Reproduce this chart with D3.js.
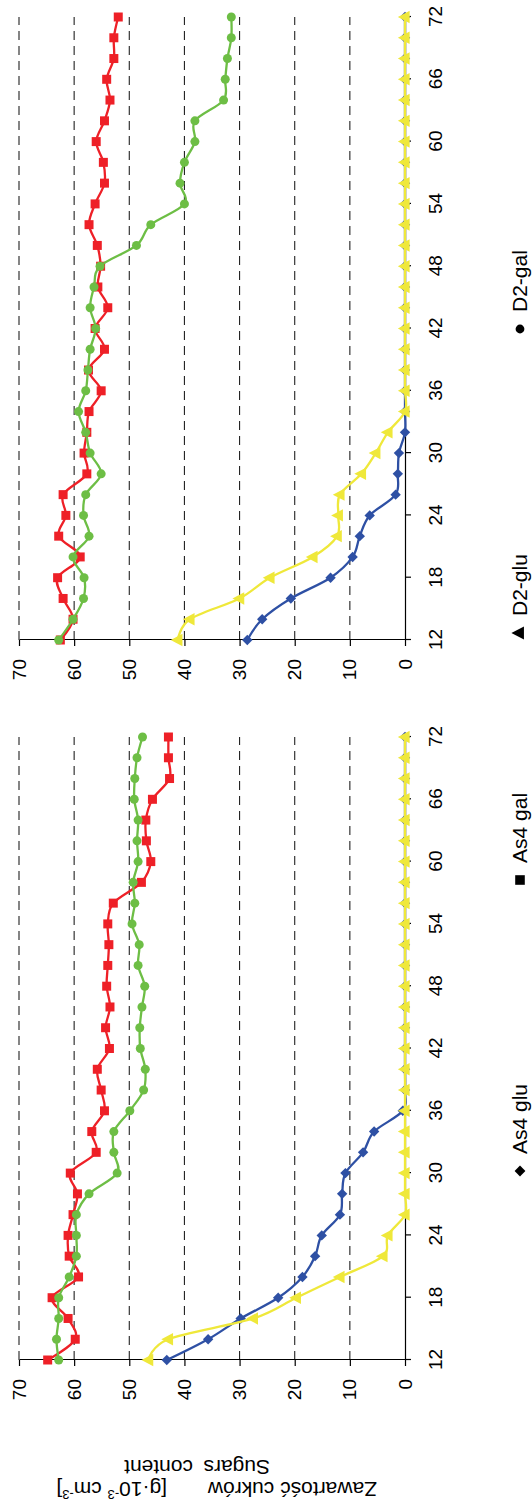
<!DOCTYPE html>
<html>
<head>
<meta charset="utf-8">
<script src="https://cdn.jsdelivr.net/npm/d3@7"></script>
<style>
  html, body { margin: 0; padding: 0; background: #fff; }
  svg { display: block; font-family: "Liberation Sans", Arial, sans-serif; }
</style>
</head>
<body>
<svg id="chart" width="532" height="1505"></svg>
<script>
// Sampling times (h)
const hours = [12, 14, 16, 18, 20, 22, 24, 26, 28, 30, 32, 34, 36, 38, 40, 42,
               44, 46, 48, 50, 52, 54, 56, 58, 60, 62, 64, 66, 68, 70, 72];
const hourTicks = [12, 18, 24, 30, 36, 42, 48, 54, 60, 66, 72];
const valueTicks = [0, 10, 20, 30, 40, 50, 60, 70];
const gridValues = [10, 20, 30, 40, 50, 60, 70];

// Left panel, sugar content [g·10^-3 cm^-3]
const leftAs4Glu = [43.2, 35.7, 29.8, 23.0, 18.6, 16.3, 15.1, 11.8, 11.4, 10.8, 7.6, 5.6, 0.4, 0, 0, 0,
                    0, 0, 0, 0, 0, 0, 0, 0, 0, 0, 0, 0, 0, 0, 0];
const leftAs4Gal = [64.8, 59.8, 61.1, 64.0, 59.2, 60.9, 61.1, 60.2, 59.4, 60.7, 56.0, 56.8, 54.5, 55.1, 55.8, 53.6,
                    54.3, 53.5, 54.1, 53.9, 53.7, 53.9, 52.9, 47.8, 46.1, 46.9, 47.0, 45.8, 42.7, 42.9, 42.9];
const leftD2Glu  = [46.5, 42.9, 27.5, 19.7, 11.8, 4.0, 3.1, 0, 0, 0, 0, 0, 0, 0, 0, 0,
                    0, 0, 0, 0, 0, 0, 0, 0, 0, 0, 0, 0, 0, 0, 0];
const leftD2Gal  = [62.8, 63.2, 62.8, 62.8, 60.9, 59.6, 59.6, 59.6, 57.3, 52.2, 52.8, 52.8, 49.9, 47.4, 47.1, 48.0,
                    48.1, 47.7, 47.2, 48.4, 48.2, 49.5, 49.0, 49.3, 48.4, 48.6, 48.4, 49.1, 49.0, 48.6, 47.6];

// Right panel
const rightAs4Glu = [28.6, 25.9, 20.7, 13.5, 9.5, 8.2, 6.4, 1.7, 1.3, 1.1, 0, 0, 0, 0, 0, 0,
                     0, 0, 0, 0, 0, 0, 0, 0, 0, 0, 0, 0, 0, 0, 0];
const rightAs4Gal = [62.5, 60.2, 62.0, 63.0, 58.9, 62.8, 61.5, 62.0, 57.7, 58.2, 57.7, 57.3, 55.1, 57.4, 54.5, 56.2,
                     53.9, 55.7, 55.2, 55.8, 57.3, 56.2, 54.5, 54.7, 56.0, 54.5, 53.5, 54.1, 52.8, 52.8, 52.0];
const rightD2Glu  = [41.2, 39.0, 30.0, 24.5, 16.7, 12.3, 12.1, 11.8, 7.9, 5.3, 3.1, 0, 0, 0, 0, 0,
                     0, 0, 0, 0, 0, 0, 0, 0, 0, 0, 0, 0, 0, 0, 0];
const rightD2Gal  = [62.8, 60.2, 58.3, 58.2, 60.2, 57.3, 58.3, 57.9, 55.1, 57.1, 57.9, 59.2, 57.9, 57.5, 57.1, 56.1,
                     57.1, 56.4, 55.3, 48.7, 46.1, 40.0, 40.8, 40.0, 38.1, 38.1, 32.9, 32.6, 32.2, 31.5, 31.5];

const seriesNames = ["As4 glu", "As4 gal", "D2-glu", "D2-gal"];
const seriesColors = ["#2E50A4", "#EE2027", "#EFE83A", "#6DBE45"];
const seriesMarkers = ["diamond", "square", "triangle", "circle"];

// The figure is laid out landscape (1505 x 532) and turned a quarter turn
const W = 1505;
const svg = d3.select("#chart");
const root = svg.append("g").attr("transform", `translate(0,${W}) rotate(-90)`);

const y = d3.scaleLinear().domain([0, 70]).range([405, 19]);
const panels = [
  { x: d3.scaleLinear().domain([12, 72]).range([145, 768]),
    data: [leftAs4Glu, leftAs4Gal, leftD2Glu, leftD2Gal] },
  { x: d3.scaleLinear().domain([12, 72]).range([865, 1488]),
    data: [rightAs4Glu, rightAs4Gal, rightD2Glu, rightD2Gal] }
];

function markerPath(kind, s) {
  if (kind === "diamond") return `M0,${-s}L${s},0L0,${s}L${-s},0Z`;
  if (kind === "square") return `M${-s},${-s}H${s}V${s}H${-s}Z`;
  if (kind === "triangle") return `M0,${-s * 1.15}L${s},${s * 0.75}L${-s},${s * 0.75}Z`;
  return d3.symbol(d3.symbolCircle, Math.PI * s * s)();
}
const markerSize = { diamond: 5.2, square: 4.5, triangle: 6.2, circle: 4.5 };

panels.forEach(p => {
  const g = root.append("g");
  const x0 = p.x(12), x1 = p.x(72);

  // dashed gridlines
  g.append("g").selectAll("line").data(gridValues).join("line")
    .attr("x1", x0).attr("x2", x1)
    .attr("y1", d => y(d)).attr("y2", d => y(d))
    .attr("stroke", "#222").attr("stroke-width", 1.1)
    .attr("stroke-dasharray", "9,6");

  // value axis
  const ay = g.append("g").attr("transform", `translate(${x0},0)`)
    .call(d3.axisLeft(y).tickValues(valueTicks).tickSize(6).tickSizeOuter(0).tickPadding(13));
  // time axis
  const ax = g.append("g").attr("transform", `translate(0,${y(0)})`)
    .call(d3.axisBottom(p.x).tickValues(hourTicks).tickSize(6).tickSizeOuter(0).tickPadding(18));
  [ay, ax].forEach(a => {
    a.select(".domain").attr("stroke", "#000").attr("stroke-width", 1.2);
    a.selectAll(".tick line").attr("stroke", "#000").attr("stroke-width", 1.2);
    a.selectAll(".tick text").attr("font-size", 19).attr("fill", "#000")
      .attr("font-family", "Liberation Sans, Arial, sans-serif");
  });

  // series
  const line = d3.line()
    .x((d, i) => p.x(hours[i]))
    .y(d => y(d))
    .curve(d3.curveCardinal.tension(0));

  p.data.forEach((vals, k) => {
    const sg = g.append("g");
    sg.append("path").datum(vals)
      .attr("d", line)
      .attr("fill", "none")
      .attr("stroke", seriesColors[k])
      .attr("stroke-width", 2.3)
      .attr("stroke-linejoin", "round");
    const kind = seriesMarkers[k];
    sg.selectAll("path.m").data(vals).join("path")
      .attr("class", "m")
      .attr("transform", (d, i) => `translate(${p.x(hours[i])},${y(d)})`)
      .attr("d", markerPath(kind, markerSize[kind]))
      .attr("fill", seriesColors[k]);
  });
});

// legend
const legendX = [334, 625, 872, 1176];
const legendSize = { diamond: 5.4, square: 4.8, triangle: 6.6, circle: 4.4 };
const lg = root.append("g");
seriesNames.forEach((name, k) => {
  const kind = seriesMarkers[k];
  lg.append("path")
    .attr("transform", `translate(${legendX[k]},${kind === "triangle" ? 519 : 520})`)
    .attr("d", markerPath(kind, legendSize[kind]))
    .attr("fill", "#000");
  lg.append("text")
    .attr("x", legendX[k] + 17).attr("y", 527)
    .attr("font-size", 21).attr("fill", "#000")
    .text(name);
});

// value axis title
const title = root.append("g").attr("font-size", 21).attr("fill", "#000");
title.append("text").attr("transform", "translate(23,377) rotate(-90)").text("Zawartość cukrów");
const unit = title.append("text").attr("transform", "translate(23,167) rotate(-90)");
unit.append("tspan").text("[g·10");
unit.append("tspan").attr("font-size", 13).attr("dy", -8).text("-3");
unit.append("tspan").attr("dy", 8).text(" cm");
unit.append("tspan").attr("font-size", 13).attr("dy", -8).text("-3");
unit.append("tspan").attr("dy", 8).text("]");
title.append("text").attr("transform", "translate(45,270) rotate(-90)").text("Sugars");
title.append("text").attr("transform", "translate(45,193) rotate(-90)").text("content");
</script>
</body>
</html>
